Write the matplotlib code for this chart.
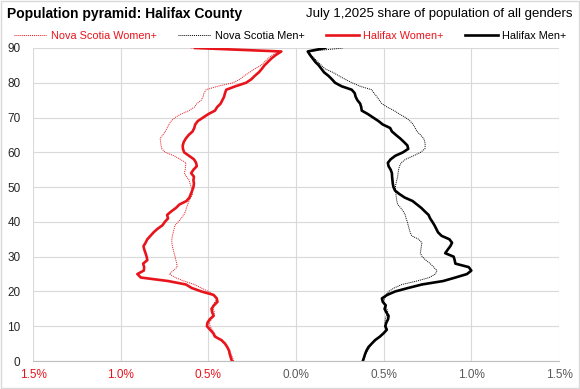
import numpy as np
import matplotlib.pyplot as plt
from matplotlib.patches import Rectangle

plt.rcParams['font.family'] = ['Liberation Sans', 'DejaVu Sans']

# single-year ages, 90 = 90+
ages = np.arange(0, 91)

# share of population of all genders (%)
halifax_women = [
    0.366, 0.372, 0.378, 0.382, 0.392, 0.405, 0.425, 0.462, 0.472, 0.490,
    0.508, 0.505, 0.492, 0.470, 0.478, 0.482, 0.468, 0.448, 0.452, 0.470,
    0.540, 0.595, 0.628, 0.730, 0.885, 0.905, 0.868, 0.866, 0.872, 0.848,
    0.852, 0.858, 0.865, 0.870, 0.858, 0.848, 0.830, 0.812, 0.790, 0.762,
    0.748, 0.730, 0.735, 0.712, 0.685, 0.665, 0.625, 0.608, 0.600, 0.592,
    0.585, 0.582, 0.585, 0.582, 0.598, 0.585, 0.566, 0.570, 0.582, 0.610,
    0.638, 0.645, 0.646, 0.640, 0.628, 0.612, 0.590, 0.580, 0.575, 0.560,
    0.530, 0.500, 0.462, 0.450, 0.430, 0.420, 0.410, 0.405, 0.398, 0.345,
    0.285, 0.255, 0.235, 0.212, 0.195, 0.180, 0.160, 0.140, 0.115, 0.084,
    0.575]
ns_women = [
    0.355, 0.362, 0.370, 0.380, 0.392, 0.408, 0.430, 0.455, 0.466, 0.478,
    0.490, 0.494, 0.482, 0.468, 0.466, 0.472, 0.475, 0.462, 0.450, 0.470,
    0.500, 0.540, 0.580, 0.640, 0.688, 0.722, 0.700, 0.678, 0.680, 0.685,
    0.690, 0.695, 0.700, 0.705, 0.708, 0.708, 0.705, 0.700, 0.695, 0.690,
    0.672, 0.655, 0.640, 0.630, 0.625, 0.618, 0.610, 0.600, 0.590, 0.592,
    0.598, 0.604, 0.609, 0.625, 0.637, 0.632, 0.630, 0.628, 0.660, 0.695,
    0.745, 0.765, 0.770, 0.772, 0.775, 0.760, 0.745, 0.735, 0.725, 0.712,
    0.690, 0.656, 0.610, 0.580, 0.565, 0.540, 0.530, 0.525, 0.513, 0.447,
    0.360, 0.320, 0.295, 0.265, 0.235, 0.200, 0.180, 0.160, 0.135, 0.105,
    0.600]
halifax_men = [
    0.381, 0.388, 0.394, 0.402, 0.413, 0.432, 0.451, 0.478, 0.500, 0.518,
    0.509, 0.515, 0.525, 0.528, 0.515, 0.505, 0.512, 0.495, 0.490, 0.520,
    0.566, 0.640, 0.718, 0.840, 0.909, 0.975, 1.000, 0.985, 0.909, 0.905,
    0.899, 0.851, 0.865, 0.880, 0.890, 0.875, 0.830, 0.810, 0.800, 0.790,
    0.778, 0.765, 0.756, 0.735, 0.715, 0.690, 0.665, 0.620, 0.590, 0.565,
    0.556, 0.552, 0.550, 0.548, 0.547, 0.540, 0.528, 0.524, 0.540, 0.566,
    0.610, 0.640, 0.635, 0.615, 0.594, 0.570, 0.547, 0.537, 0.495, 0.470,
    0.440, 0.410, 0.375, 0.372, 0.366, 0.350, 0.340, 0.335, 0.318, 0.260,
    0.223, 0.205, 0.185, 0.160, 0.145, 0.130, 0.110, 0.095, 0.080, 0.067,
    0.166]
ns_men = [
    0.385, 0.390, 0.398, 0.408, 0.420, 0.432, 0.455, 0.480, 0.500, 0.518,
    0.515, 0.508, 0.509, 0.515, 0.524, 0.518, 0.505, 0.499, 0.505, 0.515,
    0.528, 0.560, 0.604, 0.690, 0.760, 0.795, 0.804, 0.785, 0.766, 0.740,
    0.720, 0.709, 0.712, 0.715, 0.718, 0.700, 0.660, 0.651, 0.645, 0.640,
    0.635, 0.628, 0.623, 0.612, 0.598, 0.580, 0.575, 0.572, 0.570, 0.566,
    0.567, 0.570, 0.575, 0.580, 0.582, 0.585, 0.590, 0.600, 0.625, 0.670,
    0.710, 0.735, 0.737, 0.735, 0.728, 0.710, 0.690, 0.680, 0.668, 0.651,
    0.625, 0.590, 0.560, 0.520, 0.490, 0.475, 0.461, 0.445, 0.432, 0.366,
    0.320, 0.280, 0.245, 0.210, 0.166, 0.145, 0.125, 0.105, 0.085, 0.070,
    0.270]

xticks = [-1.5, -1.0, -0.5, 0.0, 0.5, 1.0, 1.5]
yticks = list(range(0, 91, 10))

red = '#e8141c'
fig = plt.figure(figsize=(5.8, 3.89), dpi=100)
fig.patches.append(Rectangle((0.002, 0.003), 0.996, 0.994, transform=fig.transFigure,
                             fill=False, edgecolor='#d9d9d9', linewidth=1))
ax = fig.add_axes([33 / 580, 1 - 361 / 389, 526 / 580, 313 / 389])

dots = (0, (1, 1))
ax.plot(-np.array(ns_women), ages, color=red, lw=0.7, ls=dots, label='Nova Scotia Women+')
ax.plot(ns_men, ages, color='black', lw=0.7, ls=dots, label='Nova Scotia Men+')
ax.plot(-np.array(halifax_women), ages, color=red, lw=1.9, label='Halifax Women+')
ax.plot(halifax_men, ages, color='black', lw=1.9, label='Halifax Men+')

ax.set_xlim(-1.5, 1.5)
ax.set_ylim(0, 90)
ax.set_xticks(xticks)
ax.set_xticklabels([f'{abs(v):.1f}%' for v in xticks], fontsize=8.5, color='#595959')
for lab, v in zip(ax.get_xticklabels(), xticks):
    if v < 0:
        lab.set_color(red)
ax.set_yticks(yticks)
ax.set_yticklabels([str(v) for v in yticks], fontsize=8.5, color='#262626')
ax.tick_params(length=0, pad=6)
ax.tick_params(axis='y', pad=9)
ax.grid(True, color='#d9d9d9', lw=0.8)
ax.set_axisbelow(True)
for s in ['top', 'right', 'left']:
    ax.spines[s].set_visible(False)
ax.spines['bottom'].set_color('#bfbfbf')

fig.text(7 / 580, 1 - 14 / 389, 'Population pyramid: Halifax County', fontsize=10,
         fontweight='bold', va='center', ha='left')
fig.text(573 / 580, 1 - 14 / 389, 'July 1,2025 share of population of all genders',
         fontsize=9.5, va='center', ha='right')
fig.legend(loc='center', bbox_to_anchor=(0.5, 1 - 36 / 389), ncol=4, frameon=False,
           fontsize=7.8, labelcolor='linecolor', handlelength=3.0, columnspacing=2.0,
           handletextpad=0.4, borderaxespad=0, borderpad=0)

fig.savefig('out.png', dpi=100)
